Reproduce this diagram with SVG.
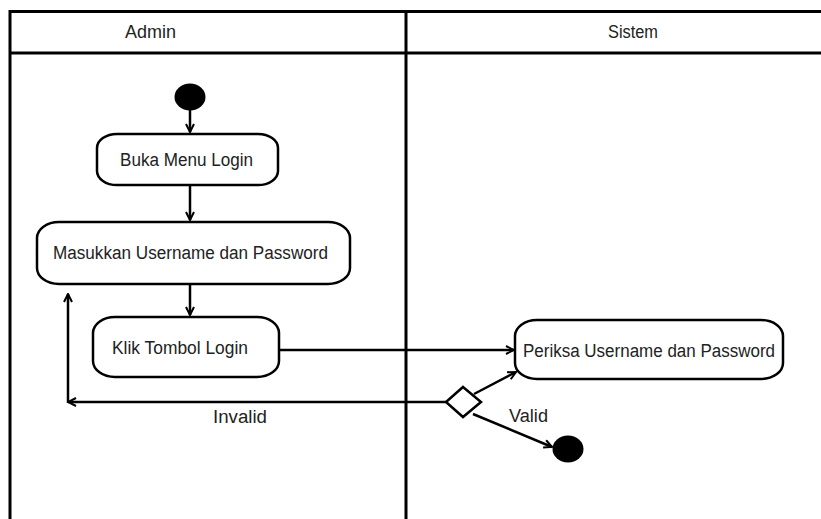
<svg xmlns="http://www.w3.org/2000/svg" width="821" height="519" viewBox="0 0 821 519">
<style>
.frame{fill:none;stroke:#000;stroke-width:3}
.box{fill:#fff;stroke:#000;stroke-width:2.5}
.edge{fill:none;stroke:#000;stroke-width:2.5}
.t{font-family:"Liberation Sans",Arial,sans-serif;font-size:18px;fill:#222}
.h{font-family:"Liberation Sans",Arial,sans-serif;font-size:17.5px;fill:#222}
</style>
<defs>
<marker id="arr" viewBox="0 0 10 10" refX="9" refY="5" markerWidth="10" markerHeight="10" markerUnits="userSpaceOnUse" orient="auto">
<path d="M1,1 L9,5 L1,9" fill="none" stroke="#000" stroke-width="2"/>
</marker>
</defs>
<rect width="821" height="519" fill="#fff"/>
<g id="swimlanes">
<path class="frame" d="M10,519 V11.5 H821"/>
<path class="frame" d="M10,53 H821"/>
<path class="frame" d="M406,11.5 V519"/>
<text class="h" x="125" y="38" textLength="51" lengthAdjust="spacingAndGlyphs">Admin</text>
<text class="h" x="608" y="38" textLength="50" lengthAdjust="spacingAndGlyphs">Sistem</text>
</g>
<g id="connectors">
<path class="edge" d="M190,110 V132" marker-end="url(#arr)"/>
<path class="edge" d="M190,185 V220" marker-end="url(#arr)"/>
<path class="edge" d="M190,284 V315" marker-end="url(#arr)"/>
<path class="edge" d="M279,350 H514" marker-end="url(#arr)"/>
<path class="edge" d="M446,402 H68" marker-end="url(#arr)"/>
<path class="edge" d="M68,403 V294" marker-end="url(#arr)"/>
<path class="edge" d="M474,394 L516,372" marker-end="url(#arr)"/>
<path class="edge" d="M473,414 L552,447" marker-end="url(#arr)"/>
<text class="t" x="213" y="423" textLength="54" lengthAdjust="spacingAndGlyphs">Invalid</text>
<text class="t" x="509" y="422" textLength="39" lengthAdjust="spacingAndGlyphs">Valid</text>
</g>
<g id="start">
<ellipse cx="190" cy="97" rx="15.5" ry="13.5" fill="#000"/>
</g>
<g id="buka-menu-login">
<rect class="box" x="97" y="134" width="181" height="51" rx="20" ry="14"/>
<text class="t" x="120" y="166" textLength="133" lengthAdjust="spacingAndGlyphs">Buka Menu Login</text>
</g>
<g id="masukkan">
<rect class="box" x="37" y="222" width="313" height="62" rx="22" ry="16"/>
<text class="t" x="53" y="259" textLength="275" lengthAdjust="spacingAndGlyphs">Masukkan Username dan Password</text>
</g>
<g id="klik-tombol-login">
<rect class="box" x="93" y="317" width="186" height="60" rx="22" ry="16"/>
<text class="t" x="112" y="354" textLength="136" lengthAdjust="spacingAndGlyphs">Klik Tombol Login</text>
</g>
<g id="periksa">
<rect class="box" x="515" y="320" width="268" height="59" rx="22" ry="16"/>
<text class="t" x="523" y="357" textLength="252" lengthAdjust="spacingAndGlyphs">Periksa Username dan Password</text>
</g>
<g id="decision">
<path class="box" d="M463,387 L481,402 L463,417 L446,402 Z"/>
</g>
<g id="end">
<ellipse cx="568" cy="449" rx="15.5" ry="13.5" fill="#000"/>
</g>
</svg>
